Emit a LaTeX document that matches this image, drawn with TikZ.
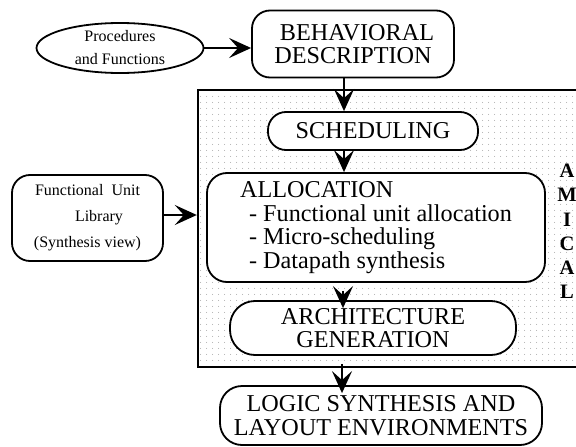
\documentclass[tikz,border=0pt]{standalone}
\usepackage{fontspec}
\setmainfont{Liberation Serif}
\usetikzlibrary{shapes.geometric,arrows.meta,patterns.meta}
\tikzdeclarepattern{
  name=griddots,
  type=uncolored,
  bottom left={(0pt,0pt)},
  top right={(6pt,6pt)},
  tile size={(6pt,6pt)},
  code={\pgfpathcircle{\pgfpoint{3pt}{3pt}}{0.55pt}\pgfusepath{fill}}
}
\tikzset{
  big/.style={font=\fontsize{24.2}{23.5}\selectfont},
  small/.style={font=\fontsize{16}{23}\selectfont},
  rbox/.style={draw, line width=1.8pt, fill=white, inner sep=0pt, align=center, big},
  arr/.style={line width=2.2pt, -{Stealth[length=22pt,width=20pt,inset=9pt]}},
}
\begin{document}
\begin{tikzpicture}[x=1pt,y=-1pt]
\useasboundingbox (0,0) rectangle (576,447);
% outer AMICAL box
\node[draw, line width=2.4pt, pattern=griddots, pattern color=gray!75, minimum width=402pt, minimum height=277pt, inner sep=0pt] (amical) at (399,228.5) {};
\node[font=\bfseries\fontsize{20.5}{24.2}\selectfont, align=center, inner sep=0pt] (amicallabel) at (567,231.5) {A\\M\\I\\C\\A\\L};
% nodes
\node[ellipse, draw, line width=1.8pt, minimum width=167pt, minimum height=50pt, inner sep=0pt, align=center, small] (proc) at (120,48) {Procedures\\and Functions};
\node[rbox, rounded corners=18pt, minimum width=202pt, minimum height=67pt] (beh) at (353,44) {\hspace*{8pt}BEHAVIORAL\\DESCRIPTION};
\node[rbox, rounded corners=18pt, minimum width=210pt, minimum height=38pt] (sched) at (373,131) {SCHEDULING};
\node[rbox, rounded corners=20pt, minimum width=338pt, minimum height=109pt, align=left] (alloc) at (376,227.5) {ALLOCATION\\\hspace*{9pt}- Functional unit allocation\\\hspace*{9pt}- Micro-scheduling\\\hspace*{9pt}- Datapath synthesis};
\node[rbox, rounded corners=25pt, minimum width=286pt, minimum height=54pt] (arch) at (373,328) {ARCHITECTURE\\GENERATION};
\node[rbox, rounded corners=22pt, minimum width=322pt, minimum height=59pt] (logic) at (381,415.5) {LOGIC SYNTHESIS AND\\LAYOUT ENVIRONMENTS};
\node[draw, line width=1.8pt, rounded corners=18pt, minimum width=151pt, minimum height=86pt, inner sep=0pt, align=center, font=\fontsize{16}{26}\selectfont] (lib) at (87.5,218) {Functional~~Unit\\\hspace*{23pt}Library\\(Synthesis view)};
% connectors
\draw[arr] (proc.east) -- (proc.east -| beh.west);
\draw[arr] ([xshift=-9pt]beh.south) -- ([xshift=-9pt]beh.south |- sched.north);
\draw[arr] ([xshift=-29pt]sched.south) -- ([xshift=-29pt]sched.south |- alloc.north);
\draw[arr] ([xshift=-33pt,yshift=-8pt]alloc.south) -- ([xshift=-33pt,yshift=-8pt]alloc.south |- arch.north);
\draw[arr] ([xshift=-31pt,yshift=-8pt]arch.south) -- ([xshift=-31pt,yshift=-8pt]arch.south |- logic.north);
\draw[arr] (lib.east |- 0,215) -- (amical.west |- 0,215);
\end{tikzpicture}
\end{document}
